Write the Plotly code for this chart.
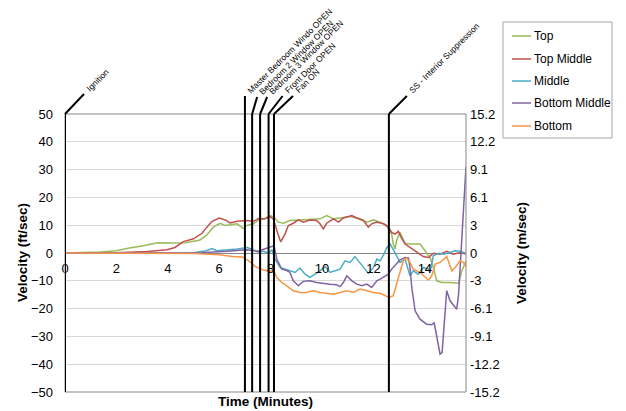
import plotly.graph_objects as go

# ---------------- data ----------------
series_names = ["Top", "Top Middle", "Middle", "Bottom Middle", "Bottom"]

t_top = [0, 1.0, 1.36, 2.0, 2.5, 3.0, 3.6, 4.1, 4.7, 5.25, 5.5, 5.77, 6.03, 6.23, 6.42, 6.7, 6.93, 7.08, 7.33, 7.55,
         7.75, 7.98, 8.11, 8.3, 8.5, 8.75, 9.14, 9.53, 9.92, 10.18, 10.44, 10.7, 11.09, 11.48, 11.74, 12.0, 12.26, 12.4,
         12.52, 12.58, 12.71, 12.77, 12.84, 12.9, 13.03, 13.23, 13.42, 13.81, 14.01, 14.2, 14.33, 14.46, 14.66, 14.98,
         15.31, 15.44, 15.6]
v_top = [0, 0.1, 0.4, 0.8, 1.8, 2.5, 3.7, 3.6, 3.7, 4.7, 6.3, 9.3, 10.7, 9.9, 10.1, 10.5, 8.9, 9.9, 10.5, 11.9,
         12.3, 13.5, 13.0, 11.1, 10.7, 11.7, 11.9, 12.0, 12.3, 13.5, 12.3, 12.6, 13.1, 12.3, 11.1, 11.9, 11.1, 10.5,
         9.9, 8.6, 6.8, 3.2, 1.4, 4.4, 7.4, 3.5, 3.2, 3.2, 0.8, -1.6, -5.2, -10.0, -10.6, -10.6,
         -10.9, -6.4, -2.8]

t_top_mid = [0, 2.0, 3.2, 3.6, 3.97, 4.28, 4.6, 5.0, 5.33, 5.52, 5.72, 6.0, 6.23, 6.42, 6.7, 7.08, 7.33, 7.55, 7.75,
             7.98, 8.11, 8.24, 8.39, 8.56, 8.69, 8.88, 9.08, 9.27, 9.53, 9.79, 9.92, 10.05, 10.18, 10.44, 10.64, 10.83,
             11.16, 11.35, 11.61, 11.8, 11.93, 12.13, 12.39, 12.58, 12.71, 12.84, 12.97, 13.06, 13.23, 13.42, 13.68,
             13.94, 14.14, 14.33, 14.59, 14.85, 15.11, 15.37, 15.6]
v_top_mid = [0, 0.1, 0.5, 0.8, 1.2, 2.0, 4.1, 5.1, 7.1, 9.3, 11.4, 12.6, 11.9, 10.8, 11.4, 11.7, 11.4, 12.5, 12.2,
             13.1, 12.2, 8.1, 4.0, 6.9, 9.9, 10.7, 11.9, 11.1, 11.9, 11.7, 10.5, 8.7, 10.7, 12.3, 11.1, 12.6,
             13.5, 12.6, 11.7, 9.3, 10.5, 11.1, 10.5, 9.3, 7.4, 6.8, 7.8, 5.9, 3.2, 2.0, 0.2,
             -1.3, -1.6, -0.1, -0.4, 0.6, -0.4, 0.2, -0.4]

t_mid = [0, 5.0, 5.5, 5.72, 5.9, 6.3, 6.7, 7.1, 7.3, 7.5, 7.72, 7.93, 8.05, 8.17, 8.37, 8.56, 8.75, 8.95, 9.14, 9.34,
         9.53, 9.73, 9.92, 10.12, 10.31, 10.5, 10.7, 10.89, 11.09, 11.28, 11.48, 11.67, 11.8, 12.0, 12.13, 12.26,
         12.41, 12.52, 12.65, 12.84, 12.9, 13.03, 13.23, 13.42, 13.55, 13.74, 13.94, 14.14, 14.2, 14.33, 14.53,
         14.72, 14.98, 15.18, 15.37, 15.6]
v_mid = [0, 0.1, 0.8, 1.6, 0.8, 1.1, 1.4, 2.0, 1.2, 0.4, 0.6, -0.1, 1.2, -2.2, -5.2, -5.8, -6.4, -7.0, -5.4, -7.6,
         -8.8, -7.6, -6.4, -4.9, -7.0, -6.4, -5.8, -2.8, -3.4, -1.3, -3.4, -5.8, -7.3, -5.2, -2.2, -2.8,
         -0.4, 2.0, 3.2, 0.2, -1.0, -3.4, -2.2, -8.2, -6.4, -7.6, -5.2, -5.8, -7.0, -1.0, -0.1,
         -0.4, 0.2, 0.8, 0.6, -0.1]

t_bot_mid = [0, 5.3, 6.3, 7.08, 7.5, 7.98, 8.13, 8.24, 8.43, 8.63, 8.75, 8.88, 9.08, 9.27, 9.53, 9.79, 10.05, 10.31,
             10.57, 10.7, 10.83, 10.96, 11.16, 11.35, 11.55, 11.74, 11.93, 12.13, 12.26, 12.45, 12.58, 12.71, 12.84,
             13.03, 13.23, 13.36, 13.42, 13.49, 13.62, 13.81, 14.07, 14.27, 14.36, 14.49, 14.59, 14.67, 14.78, 14.85,
             14.98, 15.18, 15.24, 15.31, 15.4, 15.5, 15.6]
v_bot_mid = [0, 0.1, 0.6, 1.2, 0.6, 2.0, 2.6, -2.2, -5.8, -6.3, -7.0, -10.0, -11.8, -10.2, -10.0, -10.6, -11.0, -11.2,
             -11.4, -12.1, -10.6, -8.2, -10.0, -11.2, -11.8, -11.2, -12.4, -10.0, -9.4, -8.2, -7.6, -5.8, -4.6,
             -2.5, -1.6, -1.8, -5.2, -12.4, -20.8, -23.8, -25.6, -25.8, -25.0, -31.6, -36.4, -35.8, -22.0, -13.6,
             -17.2, -19.6, -20.2, -15.0, -2.0, 15.0, 31.0]

t_bot = [0, 4.0, 5.0, 6.0, 6.5, 6.9, 7.15, 7.4, 7.72, 7.98, 8.11, 8.24, 8.43, 8.63, 8.88, 9.14, 9.4, 9.66, 9.92, 10.18,
         10.44, 10.7, 10.96, 11.22, 11.48, 11.74, 12.0, 12.26, 12.45, 12.61, 12.77, 12.87, 13.03, 13.16, 13.29, 13.42,
         13.55, 13.81, 14.14, 14.27, 14.4, 14.59, 14.85, 15.05, 15.18, 15.37, 15.5, 15.6]
v_bot = [0, -0.1, -0.2, -0.6, -1.3, -1.4, -2.8, -4.9, -6.1, -6.6, -6.1, -8.8, -10.6, -11.8, -13.6, -14.2, -14.2, -13.6,
         -14.2, -14.5, -14.8, -14.2, -13.6, -14.2, -13.0, -13.6, -14.2, -14.5, -15.4, -16.0, -15.4, -12.4, -7.0, -2.8,
         -1.8, -3.4, -5.8, -7.0, -9.7, -8.2, -4.0, -3.4, -1.3, -6.4, -5.2, -2.8, -3.4, -4.9]

event_times = [0, 7.0, 7.28, 7.59, 7.92, 8.13, 12.6]
event_labels = ["Ignition", "Master Bedroom Windo OPEN", "Bedroom 2 Window OPEN", "Bedroom 3 Window OPEN",
                "Front Door OPEN", "Fan ON", "SS - Interior Suppression"]

x_ticks = [0, 2, 4, 6, 8, 10, 12, 14]
y_ticks = [-50, -40, -30, -20, -10, 0, 10, 20, 30, 40, 50]
y2_ticktext = ["-15.2", "-12.2", "-9.1", "-6.1", "-3", "0", "3", "6.1", "9.1", "12.2", "15.2"]
FT_TO_M = 0.3048

# ---------------- style / layout ----------------
colors = ["#9BBB59", "#C0504D", "#4BACC6", "#8064A2", "#F79646"]
FONT = "Liberation Sans"
OFF = 8                     # page body margin of the browser
W, H = 618, 403             # figure size so that it fills the 626x411 window
SL, SR, ST, SB = 65, 466, 114, 392   # plot area in window pixels
L, T = SL - OFF, ST - OFF
R, B = OFF + W - SR, OFF + H - SB
PW, PH = SR - SL, SB - ST
X_MAX = 15.6
Y_MIN, Y_MAX = -50, 50


def px_x(p):
    return (p - SL) / PW


def px_y(p):
    return (SB - p) / PH


def t_to_px(t):
    return SL + t / X_MAX * PW


fig = go.Figure()
series = [(t_top, v_top), (t_top_mid, v_top_mid), (t_mid, v_mid), (t_bot_mid, v_bot_mid), (t_bot, v_bot)]
for name, (tt, vv), c in zip(series_names, series, colors):
    fig.add_trace(go.Scatter(x=tt, y=vv, mode="lines", name=name, line=dict(color=c, width=1.5),
                             showlegend=False))
# ghost trace so the m/sec axis is drawn
fig.add_trace(go.Scatter(x=[None], y=[None], yaxis="y2", showlegend=False, hoverinfo="skip"))

shapes = []
annotations = []
# plot frame
shapes.append(dict(type="rect", xref="paper", yref="paper", x0=0, x1=1, y0=0, y1=1,
                   line=dict(color="#868686", width=1), layer="above"))
# event lines and leaders
leader = [(19, -20), (0, -18), (5, -17), (7, -17), (14, -18), (19, -18), (18, -18)]
LBL_SIZE = 8.5
for te, lab, (dx, dy) in zip(event_times, event_labels, leader):
    shapes.append(dict(type="line", xref="x", yref="y", x0=te, x1=te, y0=Y_MIN, y1=Y_MAX,
                       line=dict(color="black", width=2), layer="above"))
    x0p = t_to_px(te)
    y0p = ST
    x1p, y1p = x0p + dx, y0p + dy
    shapes.append(dict(type="line", xref="paper", yref="paper", x0=px_x(x0p), y0=px_y(y0p),
                       x1=px_x(x1p), y1=px_y(y1p), line=dict(color="black", width=2)))
    annotations.append(dict(text=lab, xref="paper", yref="paper", x=px_x(x1p - 1),
                            y=px_y(y1p + 1), xanchor="left", yanchor="bottom", textangle=-45,
                            showarrow=False, borderpad=0,
                            font=dict(family=FONT, size=LBL_SIZE, color="black")))

# legend (manual, Excel style)
leg_x0, leg_x1, leg_y0, leg_y1 = 503, 612, 22, 138
shapes.append(dict(type="rect", xref="paper", yref="paper", x0=px_x(leg_x0), x1=px_x(leg_x1),
                   y0=px_y(leg_y1), y1=px_y(leg_y0), line=dict(color="#a6a6a6", width=1),
                   fillcolor="white"))
leg_rows = [36, 59, 81, 103, 126]
for name, c, ry in zip(series_names, colors, leg_rows):
    shapes.append(dict(type="line", xref="paper", yref="paper", x0=px_x(512), x1=px_x(531),
                       y0=px_y(ry), y1=px_y(ry), line=dict(color=c, width=1.5)))
    annotations.append(dict(text=name, xref="paper", yref="paper", x=px_x(532), y=px_y(ry),
                            xanchor="left", yanchor="middle", showarrow=False,
                            font=dict(family=FONT, size=12, color="black")))

# axis titles
annotations.append(dict(text="<b>Velocity (ft/sec)</b>", xref="paper", yref="paper", x=px_x(22), y=0.5,
                        textangle=-90, showarrow=False, xanchor="center", yanchor="middle",
                        font=dict(family=FONT, size=13.5, color="black")))
annotations.append(dict(text="<b>Velocity (m/sec)</b>", xref="paper", yref="paper", x=px_x(521), y=0.5,
                        textangle=-90, showarrow=False, xanchor="center", yanchor="middle",
                        font=dict(family=FONT, size=13.5, color="black")))
annotations.append(dict(text="<b>Time (Minutes)</b>", xref="paper", yref="paper", x=0.5, y=px_y(401),
                        showarrow=False, xanchor="center", yanchor="middle",
                        font=dict(family=FONT, size=13.5, color="black")))

fig.update_layout(
    width=W, height=H, margin=dict(l=L, r=R, t=T, b=B, autoexpand=False),
    paper_bgcolor="white", plot_bgcolor="white",
    showlegend=False,
    xaxis=dict(range=[0, X_MAX], tickvals=x_ticks, showgrid=False, zeroline=False, showline=False,
               anchor="free", position=0.5, ticks="", ticklabelstandoff=6, automargin=False,
               tickfont=dict(family=FONT, size=13, color="black")),
    yaxis=dict(range=[Y_MIN, Y_MAX], tickvals=y_ticks, showgrid=True, gridcolor="#d9d9d9", gridwidth=1,
               zeroline=True, zerolinecolor="#868686", zerolinewidth=1, showline=False, ticks="",
               ticklabelstandoff=11, automargin=False, tickfont=dict(family=FONT, size=13, color="black")),
    yaxis2=dict(range=[Y_MIN * FT_TO_M, Y_MAX * FT_TO_M], overlaying="y", side="right", anchor="x",
                tickvals=[v * FT_TO_M for v in y_ticks], ticktext=y2_ticktext, showgrid=False,
                zeroline=False, showline=False, ticks="", ticklabelstandoff=3, automargin=False,
                tickfont=dict(family=FONT, size=13, color="black")),
    shapes=shapes, annotations=annotations,
)

fig.write_html("out.html")
